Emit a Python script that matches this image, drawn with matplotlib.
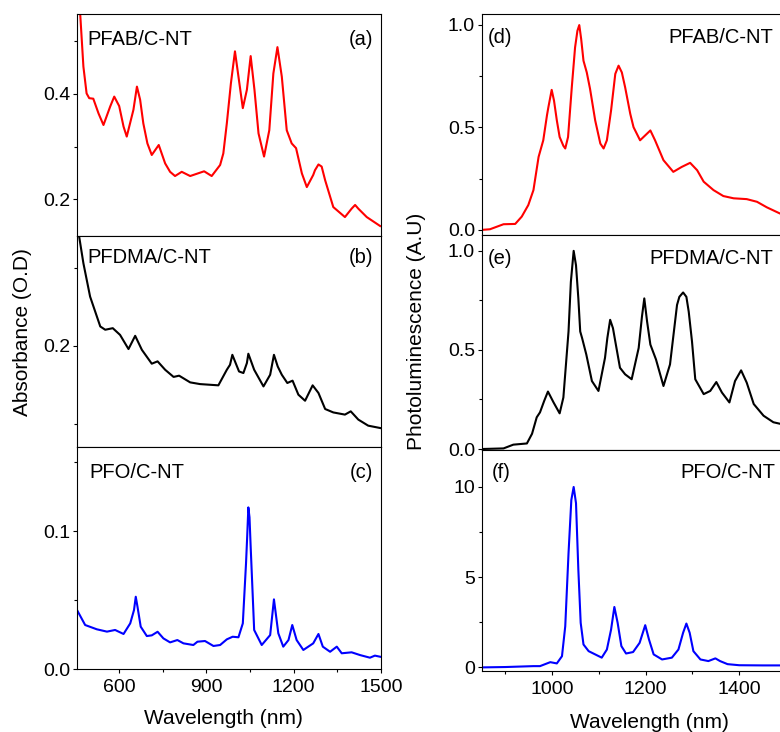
import matplotlib
matplotlib.use("Agg")
import matplotlib.pyplot as plt
from matplotlib.ticker import MultipleLocator, FormatStrFormatter

plt.rcParams['font.family'] = ['Liberation Sans', 'DejaVu Sans']

# ---- absorbance data ----
wl_a = [455, 466, 477, 488, 497, 511, 529, 546, 569, 583, 600, 615, 626, 649, 661, 672,
        683, 697, 712, 736, 758, 775, 792, 815, 844, 892, 918, 947, 958, 970, 984, 998,
        1010, 1025, 1039, 1052, 1065, 1079, 1098, 1116, 1130, 1144, 1159, 1176, 1193,
        1208, 1228, 1245, 1267, 1273, 1285, 1296, 1308, 1336, 1376, 1399, 1411, 1422,
        1451, 1497]
abs_pfab = [0.62, 0.552, 0.452, 0.401, 0.392, 0.391, 0.363, 0.341, 0.376, 0.395, 0.377,
            0.338, 0.319, 0.370, 0.414, 0.389, 0.344, 0.306, 0.284, 0.303, 0.268, 0.252,
            0.244, 0.252, 0.244, 0.253, 0.244, 0.265, 0.287, 0.344, 0.42, 0.481, 0.433,
            0.373, 0.408, 0.472, 0.408, 0.325, 0.281, 0.331, 0.439, 0.489, 0.433, 0.331,
            0.306, 0.297, 0.249, 0.223, 0.246, 0.255, 0.266, 0.262, 0.236, 0.185, 0.166,
            0.182, 0.189, 0.182, 0.166, 0.149]

wl_b = [457, 477, 500, 535, 552, 578, 603, 632, 655, 678, 712, 732, 758, 787, 806, 844,
        878, 941, 970, 981, 989, 1012, 1027, 1039, 1044, 1064, 1096, 1119, 1132, 1145,
        1159, 1178, 1196, 1216, 1239, 1265, 1285, 1308, 1336, 1376, 1396, 1422, 1456,
        1497]
abs_pfdma = [0.2765, 0.253, 0.2316, 0.2124, 0.2103, 0.2113, 0.207, 0.1979, 0.2064, 0.1974,
             0.1885, 0.190, 0.1846, 0.180, 0.1808, 0.1765, 0.1754, 0.1746, 0.1846, 0.1878,
             0.1942, 0.1835, 0.1825, 0.1889, 0.1949, 0.1846, 0.1739, 0.1814, 0.1942,
             0.1867, 0.1814, 0.1761, 0.1776, 0.1686, 0.1647, 0.1746, 0.1697, 0.1594,
             0.1572, 0.1558, 0.1579, 0.1526, 0.1487, 0.1472]

wl_c = [455, 483, 523, 558, 586, 615, 638, 651, 657, 663, 674, 695, 712, 732, 752, 775,
        800, 821, 855, 869, 895, 924, 947, 970, 990, 1010, 1025, 1036, 1040, 1044, 1048,
        1052, 1064, 1090, 1119, 1132, 1147, 1164, 1182, 1195, 1210, 1233, 1267, 1285,
        1300, 1325, 1348, 1365, 1399, 1428, 1462, 1479, 1497]
abs_pfo = [0.0428, 0.0319, 0.0288, 0.0271, 0.0283, 0.0254, 0.0331, 0.0428, 0.0524, 0.0451,
           0.0307, 0.0239, 0.0244, 0.027, 0.0222, 0.0193, 0.021, 0.0186, 0.0174, 0.0198,
           0.0203, 0.0167, 0.0174, 0.0215, 0.0234, 0.023, 0.0331, 0.0766, 0.0959, 0.1172,
           0.110, 0.0886, 0.0283, 0.0174, 0.0246, 0.0505, 0.0259, 0.0162, 0.021, 0.0319,
           0.021, 0.0138, 0.0186, 0.0254, 0.0162, 0.0125, 0.0162, 0.0114, 0.0121, 0.0101,
           0.0082, 0.0097, 0.0089]

# ---- photoluminescence data ----
wl_d = [850, 867, 896, 921, 935, 949, 960, 971, 981, 989, 992, 999, 1004, 1010, 1016, 1024,
        1028, 1034, 1042, 1049, 1054, 1058, 1062, 1067, 1074, 1081, 1092, 1103, 1110, 1117,
        1126, 1135, 1142, 1149, 1156, 1167, 1174, 1188, 1199, 1210, 1220, 1238, 1259, 1277,
        1295, 1310, 1324, 1345, 1366, 1388, 1416, 1438, 1459, 1486, 1500]
pl_pfab = [0.0, 0.003, 0.0275, 0.029, 0.0647, 0.121, 0.194, 0.356, 0.437, 0.56, 0.599,
           0.683, 0.63, 0.534, 0.453, 0.41, 0.397, 0.453, 0.696, 0.89, 0.971, 0.999, 0.932,
           0.825, 0.768, 0.688, 0.534, 0.421, 0.397, 0.437, 0.583, 0.761, 0.801, 0.768,
           0.696, 0.566, 0.501, 0.437, 0.461, 0.485, 0.437, 0.34, 0.283, 0.307, 0.327,
           0.291, 0.235, 0.194, 0.165, 0.154, 0.15, 0.137, 0.11, 0.081, 0.068]

wl_e = [850, 896, 917, 946, 957, 967, 974, 983, 991, 1003, 1016, 1024, 1035, 1040, 1046,
        1051, 1056, 1060, 1064, 1073, 1085, 1099, 1113, 1118, 1124, 1130, 1135, 1145, 1156,
        1170, 1185, 1192, 1197, 1203, 1210, 1222, 1238, 1252, 1267, 1272, 1280, 1287, 1292,
        1299, 1306, 1324, 1338, 1351, 1363, 1379, 1391, 1404, 1416, 1431, 1452, 1473, 1488,
        1500]
pl_pfdma = [0.0, 0.003, 0.022, 0.028, 0.077, 0.16, 0.185, 0.243, 0.29, 0.235, 0.18, 0.26,
            0.593, 0.843, 1.0, 0.927, 0.76, 0.593, 0.56, 0.477, 0.343, 0.293, 0.46, 0.56,
            0.652, 0.61, 0.543, 0.41, 0.377, 0.352, 0.51, 0.668, 0.76, 0.643, 0.527, 0.452,
            0.318, 0.427, 0.727, 0.768, 0.79, 0.768, 0.693, 0.543, 0.352, 0.277, 0.293,
            0.338, 0.285, 0.235, 0.343, 0.397, 0.335, 0.227, 0.168, 0.135, 0.127, 0.125]

wl_f = [850, 900, 960, 974, 996, 1010, 1021, 1028, 1035, 1041, 1046, 1051, 1056, 1061,
        1067, 1078, 1092, 1106, 1117, 1126, 1133, 1140, 1148, 1158, 1173, 1187, 1199, 1207,
        1217, 1235, 1256, 1270, 1280, 1287, 1294, 1302, 1317, 1334, 1349, 1359, 1375, 1400,
        1450, 1500]
pl_pfo = [0.0, 0.02, 0.07, 0.07, 0.29, 0.22, 0.62, 2.28, 6.33, 9.28, 10.0, 9.1, 5.41, 2.47,
          1.27, 0.9, 0.72, 0.54, 0.99, 2.1, 3.35, 2.47, 1.18, 0.77, 0.85, 1.36, 2.34, 1.55,
          0.72, 0.44, 0.54, 0.99, 1.92, 2.43, 1.92, 0.9, 0.44, 0.35, 0.5, 0.35, 0.18, 0.12,
          0.11, 0.11]

W, H = 780, 732
fig = plt.figure(figsize=(7.8, 7.32), dpi=100)


def make_ax(left, top, right, bottom):
    return fig.add_axes([left / W, 1 - bottom / H, (right - left) / W, (bottom - top) / H])


fs_tick = 14
fs_txt = 14.5

def style(ax):
    for s in ax.spines.values():
        s.set_linewidth(0.8)
    ax.tick_params(which='major', direction='out', length=3, width=0.8,
                   labelsize=fs_tick, pad=2)
    ax.tick_params(which='minor', direction='out', length=2, width=0.8)


# left column: absorbance
ax_a = make_ax(77, 14, 381, 236)
ax_b = make_ax(77, 236, 381, 447)
ax_c = make_ax(77, 447, 381, 669)

ax_a.plot(wl_a, abs_pfab, color='#ff0000', lw=1.5)
ax_b.plot(wl_b, abs_pfdma, color='black', lw=1.5)
ax_c.plot(wl_c, abs_pfo, color='#0000ff', lw=1.5)

ax_a.set_ylim(0.13, 0.552)
ax_a.yaxis.set_major_locator(MultipleLocator(0.2))
ax_a.yaxis.set_minor_locator(MultipleLocator(0.1))
ax_b.set_ylim(0.135, 0.2705)
ax_b.yaxis.set_major_locator(MultipleLocator(0.1))
ax_b.yaxis.set_minor_locator(MultipleLocator(0.05))
ax_c.set_ylim(0, 0.161)
ax_c.yaxis.set_major_locator(MultipleLocator(0.1))
ax_c.yaxis.set_minor_locator(MultipleLocator(0.05))
for ax in (ax_a, ax_b, ax_c):
    ax.set_xlim(455, 1500)
    ax.yaxis.set_major_formatter(FormatStrFormatter('%.1f'))
    style(ax)
for ax in (ax_a, ax_b):
    ax.tick_params(axis='x', which='both', bottom=False, labelbottom=False)
ax_c.xaxis.set_major_locator(MultipleLocator(300))
ax_c.xaxis.set_minor_locator(MultipleLocator(150))
ax_c.tick_params(axis='x', pad=4)

ax_a.text(0.033, 0.93, 'PFAB/C-NT', transform=ax_a.transAxes, fontsize=fs_txt, va='top')
ax_a.text(0.974, 0.93, '(a)', transform=ax_a.transAxes, fontsize=fs_txt, va='top', ha='right')
ax_b.text(0.033, 0.943, 'PFDMA/C-NT', transform=ax_b.transAxes, fontsize=fs_txt, va='top')
ax_b.text(0.974, 0.943, '(b)', transform=ax_b.transAxes, fontsize=fs_txt, va='top', ha='right')
ax_c.text(0.04, 0.928, 'PFO/C-NT', transform=ax_c.transAxes, fontsize=fs_txt, va='top')
ax_c.text(0.974, 0.928, '(c)', transform=ax_c.transAxes, fontsize=fs_txt, va='top', ha='right')

# right column: photoluminescence (right edge runs past the image)
ax_d = make_ax(482, 14, 786, 235)
ax_e = make_ax(482, 235, 786, 450)
ax_f = make_ax(482, 450, 786, 671)

ax_d.plot(wl_d, pl_pfab, color='#ff0000', lw=1.5)
ax_e.plot(wl_e, pl_pfdma, color='black', lw=1.5)
ax_f.plot(wl_f, pl_pfo, color='#0000ff', lw=1.5)

ax_d.set_ylim(-0.025, 1.053)
ax_e.set_ylim(-0.005, 1.08)
for ax in (ax_d, ax_e):
    ax.yaxis.set_major_locator(MultipleLocator(0.5))
    ax.yaxis.set_minor_locator(MultipleLocator(0.25))
    ax.yaxis.set_major_formatter(FormatStrFormatter('%.1f'))
ax_f.set_ylim(-0.2, 12.05)
ax_f.yaxis.set_major_locator(MultipleLocator(5))
ax_f.yaxis.set_minor_locator(MultipleLocator(2.5))
for ax in (ax_d, ax_e, ax_f):
    ax.set_xlim(850, 1500)
    style(ax)
for ax in (ax_d, ax_e):
    ax.tick_params(axis='x', which='both', bottom=False, labelbottom=False)
ax_f.xaxis.set_major_locator(MultipleLocator(200))
ax_f.xaxis.set_minor_locator(MultipleLocator(100))
ax_f.tick_params(axis='x', pad=4)

ax_d.text(0.02, 0.937, '(d)', transform=ax_d.transAxes, fontsize=fs_txt, va='top')
ax_d.text(0.957, 0.937, 'PFAB/C-NT', transform=ax_d.transAxes, fontsize=fs_txt, va='top', ha='right')
ax_e.text(0.02, 0.935, '(e)', transform=ax_e.transAxes, fontsize=fs_txt, va='top')
ax_e.text(0.957, 0.935, 'PFDMA/C-NT', transform=ax_e.transAxes, fontsize=fs_txt, va='top', ha='right')
ax_f.text(0.033, 0.94, '(f)', transform=ax_f.transAxes, fontsize=fs_txt, va='top')
ax_f.text(0.964, 0.94, 'PFO/C-NT', transform=ax_f.transAxes, fontsize=fs_txt, va='top', ha='right')

# axis titles
fig.text(23 / W, 1 - 332 / H, 'Absorbance (O.D)', rotation=90, fontsize=15,
         ha='center', va='center')
fig.text(416 / W, 1 - 331 / H, 'Photoluminescence (A.U)', rotation=90, fontsize=15,
         ha='center', va='center')
fig.text(223 / W, 1 - 719 / H, 'Wavelength (nm)', fontsize=15, ha='center', va='center')
fig.text(649 / W, 1 - 722 / H, 'Wavelength (nm)', fontsize=15, ha='center', va='center')

fig.savefig('out.png', dpi=100)
